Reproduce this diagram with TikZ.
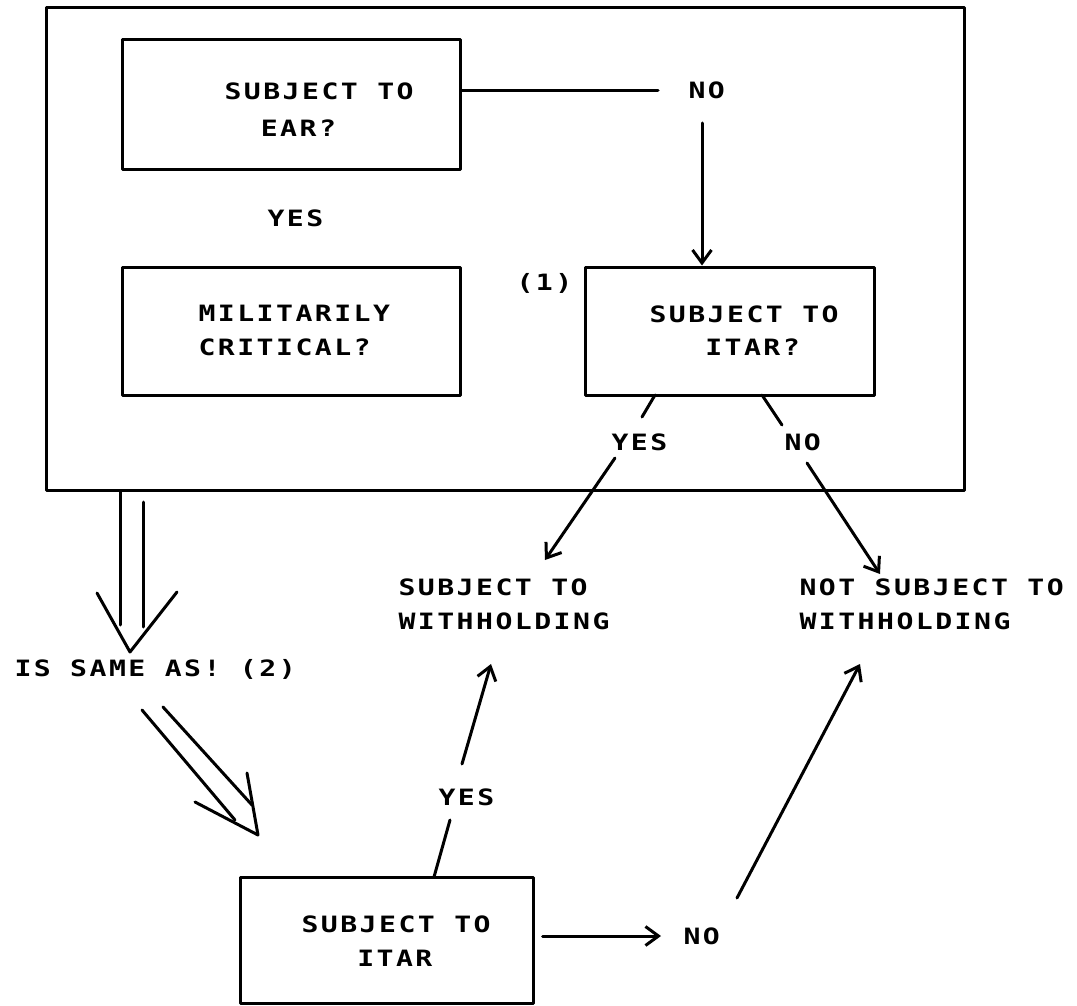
\documentclass[tikz,border=0pt]{standalone}
\usepackage{fontspec}
\newfontfamily\tw[FakeStretch=1.25,LetterSpace=11]{DejaVu Sans Mono Bold}
\usetikzlibrary{arrows.meta}
\begin{document}
\begin{tikzpicture}[x=1pt,y=-1pt,
  line width=3pt, line cap=round, line join=round,
  box/.style={draw, rectangle, inner sep=0pt},
  txt/.style={inner sep=0pt, anchor=base west, font=\tw\fontsize{22.5}{36}\selectfont},
  arr/.style={-{Straight Barb[length=13pt,width=19pt,line width=3pt]}}]
\useasboundingbox (0,0) rectangle (1077,1006);
\fill[white] (0,0) rectangle (1077,1006);

% boxes
\node[box, minimum width=918pt, minimum height=482pt] (outer) at (505,249) {};
\node[box, minimum width=338pt, minimum height=130pt] (ear) at (291,105) {};
\node[box, minimum width=338pt, minimum height=128pt] (mil) at (291,331) {};
\node[box, minimum width=289pt, minimum height=128pt] (itarq) at (729.5,331) {};
\node[box, minimum width=293pt, minimum height=126pt] (itar) at (386.5,940) {};

% texts
\node[txt] (ear1) at (223,99.5) {SUBJECT TO};
\node[txt] (ear2) at (223,136.5) {\hphantom{SU}EAR?};
\node[txt] (yes1) at (266,226.5) {YES};
\node[txt] (mil1) at (197,321.5) {MILITARILY};
\node[txt] (mil2) at (197,355.5) {CRITICAL?};
\node[txt] (n1) at (515,290.5) {(1)};
\node[txt] (iq1) at (648,322.5) {SUBJECT TO};
\node[txt] (iq2) at (648,355.5) {\hphantom{SUB}ITAR?};
\node[txt] (no1) at (687,98.5) {NO};
\node[txt] (yes2) at (610,450.5) {YES};
\node[txt] (no2) at (783,450.5) {NO};
\node[txt] (sw1) at (397,595.5) {SUBJECT TO};
\node[txt] (sw2) at (397,629.5) {WITHHOLDING};
\node[txt] (nsw1) at (798,595.5) {NOT SUBJECT TO};
\node[txt] (nsw2) at (798,629.5) {WITHHOLDING};
\node[txt] (same) at (13,676.5) {IS SAME AS! (2)};
\node[txt] (yes3) at (437,805.5) {YES};
\node[txt] (it1) at (300,932.5) {SUBJECT TO};
\node[txt] (it2) at (300,966.5) {\hphantom{SUB}ITAR};
\node[txt] (no3) at (682,944.5) {NO};

% coordinates for connector ends
\coordinate (a1) at (658,91);
\coordinate (a2) at (702,123);
\coordinate (b1) at (655,395);
\coordinate (b2) at (642,417);
\coordinate (b3) at (615,458);
\coordinate (b4) at (545,560);
\coordinate (c1) at (762,395);
\coordinate (c2) at (782,425);
\coordinate (c3) at (807,463);
\coordinate (c4) at (880,574);
\coordinate (e1) at (434,877);
\coordinate (e2) at (450,820);
\coordinate (e3) at (462,764);
\coordinate (e4) at (491,664);
\coordinate (f1) at (541,936);
\coordinate (f2) at (661,936);
\coordinate (g1) at (737,898);
\coordinate (g2) at (860,664);

% connectors
\draw (a1 -| ear.east) -- (a1);
\draw[arr] (a2) -- (a2 |- itarq.north);
\draw (b1) -- (b2);
\draw[arr] (b3) -- (b4);
\draw (c1) -- (c2);
\draw[arr] (c3) -- (c4);
\draw (e1) -- (e2);
\draw[arr] (e3) -- (e4);
\draw[arr] (f1 -| itar.east) ++(8,0) -- (f2);
\draw[arr] (g1) -- (g2);

% double arrow down
\coordinate (h1) at (120,625);
\coordinate (h2) at (143,502);
\coordinate (h3) at (143,627);
\coordinate (hl) at (97,593);
\coordinate (ht) at (130,652);
\coordinate (hr) at (177,592);
\draw (h1 |- outer.south) -- (h1);
\draw (h2) -- (h3);
\draw (hl) -- (ht) -- (hr);

% double arrow diagonal
\coordinate (k1) at (142,710);
\coordinate (k2) at (235,820);
\coordinate (k3) at (163,707);
\coordinate (k4) at (252,805);
\coordinate (kl) at (195,802);
\coordinate (kt) at (258,835);
\coordinate (kr) at (247,773);
\draw (k1) -- (k2);
\draw (k3) -- (k4);
\draw (kl) -- (kt) -- (kr);
\end{tikzpicture}
\end{document}
